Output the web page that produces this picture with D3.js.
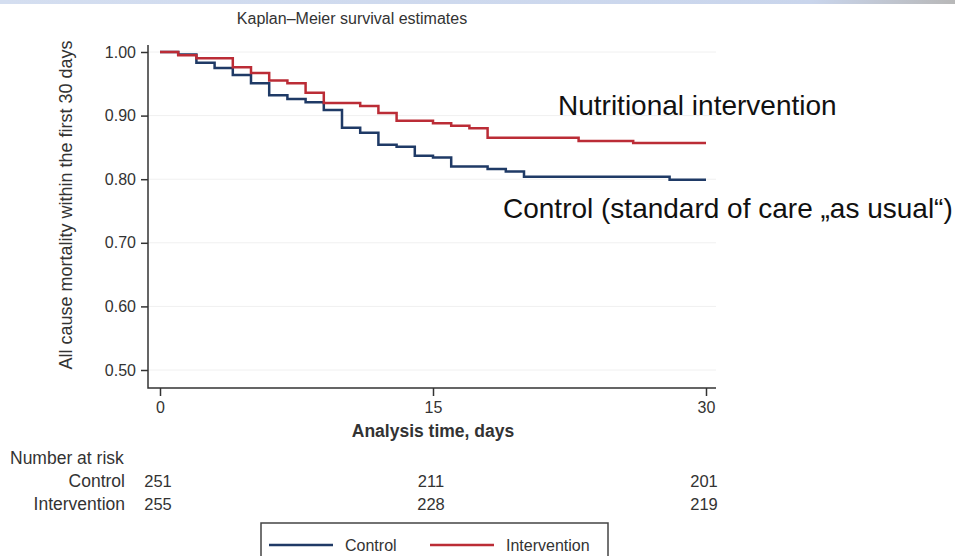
<!DOCTYPE html>
<html>
<head>
<meta charset="utf-8">
<script src="https://cdn.jsdelivr.net/npm/d3@7"></script>
<style>
  body { margin: 0; background: #fff; }
  svg { font-family: "Liberation Sans", Arial, sans-serif; }
</style>
</head>
<body>
<svg id="km" width="955" height="556"></svg>
<script>
// step times (days) and survival estimates
const controlTimes = [0, 1, 2, 3, 4, 5, 6, 7, 8, 9, 10, 11, 12, 13, 14, 15, 16, 18, 19, 20, 28, 30];
const controlSurv  = [1.0, 0.996, 0.983, 0.975, 0.964, 0.951, 0.932, 0.926, 0.921, 0.909, 0.881, 0.873, 0.854, 0.851, 0.837, 0.834, 0.82, 0.816, 0.812, 0.804, 0.799, 0.799];

const interventionTimes = [0, 1, 2, 4, 5, 6, 7, 8, 9, 11, 12, 13, 15, 16, 17, 18, 23, 26, 30];
const interventionSurv  = [1.0, 0.995, 0.99, 0.976, 0.967, 0.955, 0.951, 0.936, 0.92, 0.915, 0.904, 0.892, 0.888, 0.884, 0.88, 0.865, 0.86, 0.857, 0.857];

const yTicks = [0.5, 0.6, 0.7, 0.8, 0.9, 1.0];
const xTicks = [0, 15, 30];

const riskGroups = ["Control", "Intervention"];
const riskTimes = [0, 15, 30];
const riskCounts = [[251, 211, 201], [255, 228, 219]];

const colors = { control: "#1f3a66", intervention: "#bb2c36" };

var svg = d3.select("#km");

// slide header rule at the very top
var grad = svg.append("defs").append("linearGradient").attr("id", "hdr");
grad.append("stop").attr("offset", "0%").attr("stop-color", "#d4def0");
grad.append("stop").attr("offset", "85%").attr("stop-color", "#c9d5ec");
grad.append("stop").attr("offset", "100%").attr("stop-color", "#b8b8b8");
svg.append("rect").attr("x", 0).attr("y", 0).attr("width", 955).attr("height", 4).attr("fill", "url(#hdr)");

var x = d3.scaleLinear().domain([0, 30]).range([160, 706]);
var y = d3.scaleLinear().domain([0.5, 1]).range([370, 52]);

// plot frame (note: "top" would clash with window.top)
var frame = { left: 148, bottom: 388, top: 45, right: 716 };

// faint grid
svg.append("g").selectAll("line")
  .data(yTicks)
  .enter().append("line")
  .attr("x1", frame.left).attr("x2", frame.right)
  .attr("y1", d => y(d)).attr("y2", d => y(d))
  .attr("stroke", "#f0f0f0").attr("stroke-width", 1);

// y axis
var yAxis = d3.axisLeft(y).tickValues(yTicks).tickFormat(d3.format(".2f")).tickSize(7).tickPadding(5);
var gy = svg.append("g").attr("transform", "translate(" + frame.left + ",0)").call(yAxis);
gy.select(".domain").remove();
gy.selectAll("text").attr("font-size", 16).attr("fill", "#333").attr("font-family", "Liberation Sans, Arial");
gy.selectAll("line").attr("stroke", "#333").attr("stroke-width", 1.5);

// x axis
var xAxis = d3.axisBottom(x).tickValues(xTicks).tickSize(8).tickPadding(6);
var gx = svg.append("g").attr("transform", "translate(0," + frame.bottom + ")").call(xAxis);
gx.select(".domain").remove();
gx.selectAll("text").attr("font-size", 16).attr("fill", "#333").attr("font-family", "Liberation Sans, Arial");
gx.selectAll("line").attr("stroke", "#333").attr("stroke-width", 1.5);

// axis lines
svg.append("path")
  .attr("d", "M" + frame.left + "," + frame.top + "V" + frame.bottom + "H" + frame.right)
  .attr("fill", "none").attr("stroke", "#333").attr("stroke-width", 1.5);

// titles
svg.append("text").attr("x", 352).attr("y", 24).attr("text-anchor", "middle")
  .attr("font-size", 16).attr("fill", "#333").text("Kaplan\u2013Meier survival estimates");

svg.append("text").attr("transform", "translate(72,205) rotate(-90)").attr("text-anchor", "middle")
  .attr("font-size", 18).attr("fill", "#333").text("All cause mortality within the first 30 days");

svg.append("text").attr("x", x(15)).attr("y", 437).attr("text-anchor", "middle")
  .attr("font-size", 17.5).attr("font-weight", "bold").attr("fill", "#333").text("Analysis time, days");

// survival curves
var line = d3.line().curve(d3.curveStepAfter).x(d => x(d[0])).y(d => y(d[1]));

svg.append("path")
  .datum(d3.zip(controlTimes, controlSurv))
  .attr("d", line).attr("fill", "none")
  .attr("stroke", colors.control).attr("stroke-width", 2.5);

svg.append("path")
  .datum(d3.zip(interventionTimes, interventionSurv))
  .attr("d", line).attr("fill", "none")
  .attr("stroke", colors.intervention).attr("stroke-width", 2.5);

// annotations
svg.append("text").attr("x", 558).attr("y", 115)
  .attr("font-size", 28).attr("fill", "#111").text("Nutritional intervention");
svg.append("text").attr("x", 503).attr("y", 218)
  .attr("font-size", 28).attr("fill", "#111").text("Control (standard of care \u201Eas usual\u201C)");

// number at risk table
svg.append("text").attr("x", 10).attr("y", 464).attr("font-size", 17.5).attr("fill", "#333").text("Number at risk");

var rows = svg.append("g").selectAll("g")
  .data(riskGroups)
  .enter().append("g")
  .attr("transform", (d, i) => "translate(0," + (487 + i * 23) + ")");

rows.append("text").attr("x", 125).attr("text-anchor", "end")
  .attr("font-size", 17.5).attr("fill", "#333").text(d => d);

rows.selectAll(".n")
  .data((d, i) => riskCounts[i].map((n, j) => [riskTimes[j], n]))
  .enter().append("text")
  .attr("class", "n")
  .attr("x", d => x(d[0]) - 2).attr("text-anchor", "middle")
  .attr("font-size", 16.5).attr("fill", "#333").text(d => d[1]);

// legend (box runs off the bottom edge as in the reference)
var legend = svg.append("g");
legend.append("rect").attr("x", 261).attr("y", 523).attr("width", 347).attr("height", 50)
  .attr("fill", "#fff").attr("stroke", "#444").attr("stroke-width", 1.5);
var items = [["Control", colors.control, 269], ["Intervention", colors.intervention, 430]];
items.forEach(function(it) {
  legend.append("line").attr("x1", it[2]).attr("x2", it[2] + 64).attr("y1", 545).attr("y2", 545)
    .attr("stroke", it[1]).attr("stroke-width", 2.5);
  legend.append("text").attr("x", it[2] + 76).attr("y", 551)
    .attr("font-size", 16).attr("fill", "#333").text(it[0]);
});
</script>
</body>
</html>
